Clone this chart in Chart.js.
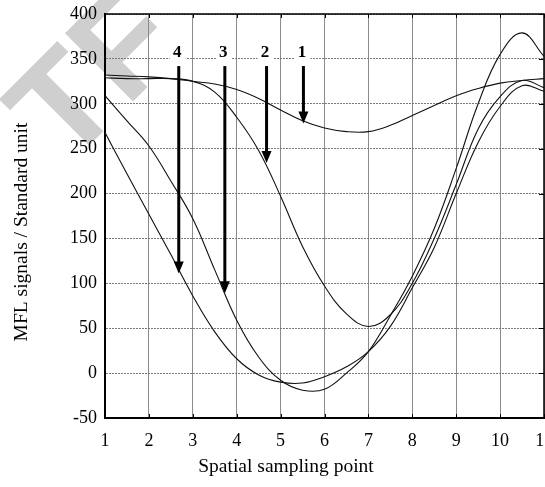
<!DOCTYPE html>
<html>
<head>
<meta charset="utf-8">
<script src="https://cdn.jsdelivr.net/npm/chart.js@4.4.1/dist/chart.umd.min.js"></script>
<style>
  html, body { margin: 0; padding: 0; background: #fff; }
</style>
</head>
<body>
<canvas id="chartJS" width="545" height="487"></canvas>
<script>
// pontos de amostragem (eixo x)
const pontos = [1, 1.5, 2, 2.5, 3, 3.5, 4, 4.5, 5, 5.5, 6, 6.5, 7, 7.5, 8, 8.5, 9, 9.5, 10, 10.5, 11];

// sinais MFL de cada defeito
const sinal1 = [332, 331, 330, 328, 325, 322, 316, 306, 293, 281, 273, 269, 269, 276, 287, 298, 309, 317, 323, 326, 328];
const sinal2 = [329, 328, 328, 328, 325, 313, 285, 248, 197, 141, 97, 66, 52, 65, 100, 150, 210, 272, 308, 326, 318];
const sinal3 = [309, 281, 253, 214, 172, 115, 59, 18, -8, -19, -18, 0, 24, 64, 108, 161, 228, 300, 355, 379, 353];
const sinal4 = [268, 222, 177, 132, 86, 46, 16, -2, -10, -11, -4, 7, 24, 52, 95, 140, 200, 257, 297, 320, 314];

// setas numeradas
const setaTexto = ["1", "2", "3", "4"];
const setaX = [5.52, 4.68, 3.73, 2.68];
const setaPonta = [278, 234, 89, 111];
const setaTopo = 342;
const textoY = 357;

const tituloX = "Spatial sampling point";
const tituloY = "MFL signals / Standard unit";

const fonteSerif = "'Liberation Serif', 'Times New Roman', serif";

function serie(valores) {
    return {
        data: pontos.map((x, i) => ({ x: x, y: valores[i] })),
        borderColor: "#111",
        borderWidth: 1.1,
        pointRadius: 0,
        tension: 0.4,
        fill: false,
    };
}

// fundo branco e marca d'agua
const fundo = {
    id: "fundo",
    beforeDraw(chart) {
        const ctx = chart.ctx;
        ctx.save();
        ctx.fillStyle = "#fff";
        ctx.fillRect(0, 0, chart.width, chart.height);
        ctx.translate(60, 120);
        ctx.rotate(-Math.PI / 4);
        ctx.fillStyle = "#cfcfcf";
        ctx.font = "bold 140px 'Liberation Sans', Arial, sans-serif";
        ctx.textBaseline = "middle";
        ctx.fillText("TF", -30, 0);
        ctx.restore();
    }
};

// titulos dos eixos
const titulos = {
    id: "titulos",
    afterDraw(chart) {
        const ctx = chart.ctx;
        ctx.save();
        ctx.fillStyle = "#000";
        ctx.font = "19.5px " + fonteSerif;
        ctx.textAlign = "center";
        ctx.textBaseline = "alphabetic";
        ctx.fillText(tituloX, 286, 472);
        ctx.translate(27, 232);
        ctx.rotate(-Math.PI / 2);
        ctx.fillText(tituloY, 0, 0);
        ctx.restore();
    }
};

// moldura superior/direita e marcas internas
const moldura = {
    id: "moldura",
    afterDatasetsDraw(chart) {
        const { ctx, chartArea: a, scales } = chart;
        ctx.save();
        ctx.strokeStyle = "#000";
        ctx.lineWidth = 1.5;
        ctx.beginPath();
        ctx.moveTo(a.left, a.top);
        ctx.lineTo(a.right, a.top);
        ctx.lineTo(a.right, a.bottom);
        ctx.stroke();
        ctx.lineWidth = 1;
        scales.x.ticks.forEach(t => {
            const px = Math.round(scales.x.getPixelForValue(t.value)) + 0.5;
            ctx.beginPath();
            ctx.moveTo(px, a.top);
            ctx.lineTo(px, a.top + 4);
            ctx.moveTo(px, a.bottom);
            ctx.lineTo(px, a.bottom - 4);
            ctx.stroke();
        });
        scales.y.ticks.forEach(t => {
            const py = Math.round(scales.y.getPixelForValue(t.value)) + 0.5;
            ctx.beginPath();
            ctx.moveTo(a.right, py);
            ctx.lineTo(a.right - 5, py);
            ctx.stroke();
        });
        ctx.restore();
    }
};

// setas com os numeros
const setas = {
    id: "setas",
    afterDatasetsDraw(chart) {
        const { ctx, scales } = chart;
        ctx.save();
        setaX.forEach((v, i) => {
            const px = scales.x.getPixelForValue(v);
            const topo = scales.y.getPixelForValue(setaTopo);
            const ponta = scales.y.getPixelForValue(setaPonta[i]);
            ctx.strokeStyle = "#000";
            ctx.fillStyle = "#000";
            ctx.lineWidth = 3;
            ctx.beginPath();
            ctx.moveTo(px, topo);
            ctx.lineTo(px, ponta - 10);
            ctx.stroke();
            ctx.beginPath();
            ctx.moveTo(px - 5, ponta - 12);
            ctx.lineTo(px + 5, ponta - 12);
            ctx.lineTo(px, ponta);
            ctx.closePath();
            ctx.fill();

            const ty = scales.y.getPixelForValue(textoY);
            ctx.fillStyle = "#fff";
            ctx.fillRect(px - 9, ty - 9, 16, 18);
            ctx.fillStyle = "#000";
            ctx.font = "bold 17px " + fonteSerif;
            ctx.textAlign = "center";
            ctx.textBaseline = "middle";
            ctx.fillText(setaTexto[i], px - 1.5, ty);
        });
        ctx.restore();
    }
};

const config = {
    type: "line",
    data: {
        datasets: [serie(sinal1), serie(sinal2), serie(sinal3), serie(sinal4)],
    },
    options: {
        responsive: false,
        animation: false,
        layout: { padding: { top: 14, right: 1, left: 0, bottom: 0 } },
        plugins: {
            legend: { display: false },
            tooltip: { enabled: false },
        },
        scales: {
            x: {
                type: "linear",
                min: 1,
                max: 11,
                ticks: {
                    stepSize: 1,
                    autoSkip: false,
                    maxRotation: 0,
                    padding: 12,
                    color: "#000",
                    font: { family: fonteSerif, size: 18 },
                },
                grid: { color: "#8a8a8a", lineWidth: 1, drawTicks: false },
                border: { color: "#000", width: 2 },
                afterFit(scale) {
                    scale.height = 69;
                    scale.paddingLeft = 0;
                    scale.paddingRight = 0;
                },
            },
            y: {
                min: -50,
                max: 400,
                ticks: {
                    stepSize: 50,
                    padding: 8,
                    color: "#000",
                    font: { family: fonteSerif, size: 18 },
                },
                grid: { color: "#7a7a7a", lineWidth: 1, drawTicks: false },
                border: { color: "#000", width: 2, dash: [2, 1] },
                afterFit(scale) {
                    scale.width = 105;
                    scale.paddingTop = 0;
                    scale.paddingBottom = 0;
                },
            },
        },
    },
    plugins: [fundo, moldura, setas, titulos],
};

const grafico = new Chart(document.getElementById("chartJS"), config);
</script>
</body>
</html>
